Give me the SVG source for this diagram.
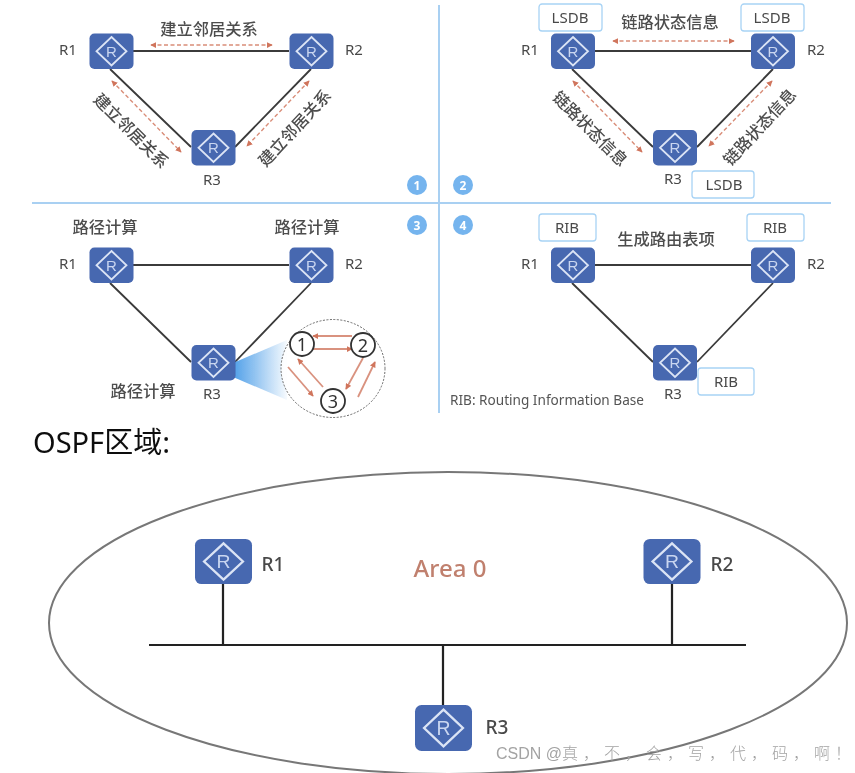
<svg xmlns="http://www.w3.org/2000/svg" width="855" height="773" viewBox="0 0 855 773">
<style>
text{font-family:"Noto Sans","Noto Sans CJK SC",sans-serif;fill:#555}
.lbl{font-size:15px;text-anchor:middle;fill:#4a4a4a}
.cn{font-size:16.300px;font-weight:500;text-anchor:middle;fill:#4d4d4d;font-family:"Noto Sans CJK SC",sans-serif}
.big{font-size:19px;font-weight:500;fill:#4a4a4a;text-anchor:middle}
.link{stroke:#3a3a3a;stroke-width:1.800;fill:none}
.bus{stroke:#222;stroke-width:2.200;fill:none}
.divider{stroke:#a9d0f2;stroke-width:2;fill:none}
.dash{stroke:#d98d78;stroke-width:1.400;stroke-dasharray:4 2.500;fill:none;marker-start:url(#as);marker-end:url(#ae)}
.solid{stroke:#d9927f;stroke-width:1.800;fill:none;marker-end:url(#ae)}
.box{fill:#fff;stroke:#a8d3f5;stroke-width:1.300}
.num{fill:#fff;stroke:#333;stroke-width:1.800}
.numt{font-size:18px;text-anchor:middle;fill:#333}
.badge{fill:#74b4ee}
.badget{font-size:12px;font-weight:bold;fill:#fff;text-anchor:middle}
</style>
<defs>
<filter id="soft" x="0" y="0" width="100%" height="100%" filterUnits="userSpaceOnUse" primitiveUnits="userSpaceOnUse"><feGaussianBlur stdDeviation="0.5"/></filter>
<marker id="ae" viewBox="0 0 8 8" refX="7" refY="4" markerWidth="6" markerHeight="6" markerUnits="userSpaceOnUse" orient="auto"><path d="M0 0L8 4L0 8Z" fill="#d0745c"/></marker>
<marker id="as" viewBox="0 0 8 8" refX="1" refY="4" markerWidth="6" markerHeight="6" markerUnits="userSpaceOnUse" orient="auto"><path d="M8 0L0 4L8 8Z" fill="#d0745c"/></marker>
<linearGradient id="cone" x1="0" y1="0" x2="1" y2="0"><stop offset="0" stop-color="#4f9fe8"/><stop offset="1" stop-color="#4f9fe8" stop-opacity="0.05"/></linearGradient>
<symbol id="router" viewBox="0 0 44 35.500" preserveAspectRatio="none" overflow="visible">
<rect width="44" height="35.500" rx="5" fill="#4767b0"/>
<path d="M22 3.500L37 17.750L22 32L7 17.750Z" fill="none" stroke="#dbe4f5" stroke-width="1.800"/>
<text x="22" y="23" font-size="15" text-anchor="middle" style="fill:#c9d6f0;font-family:'Liberation Sans',sans-serif">R</text>
</symbol>
</defs>

<g filter="url(#soft)">
<g id="dividers">
<line class="divider" x1="439" y1="5" x2="439" y2="413"/>
<line class="divider" x1="32" y1="203" x2="831" y2="203"/>
</g>

<g id="connectors">
<path class="link" d="M133 51H289M110 69L191 147M311 69L235 147"/>
<path class="dash" d="M151 45H272"/>
<path class="dash" d="M112 81L181 152"/>
<path class="dash" d="M309 81L247 146"/>
<path class="link" d="M595 51H751M572 69L653 147M773 69L697 147"/>
<path class="dash" d="M613 41H734"/>
<path class="dash" d="M573 81L642 152"/>
<path class="dash" d="M772 81L709 146"/>
<path class="link" d="M133 265H289M110 283L191 362M311 283L235 362"/>
<path class="link" d="M595 265H751M572 283L653 362M773 283L697 362"/>
<path class="bus" d="M149 645H746M223 584V645M672 584V645M443 645V705"/>
</g>

<g id="cone-zoom">
<path d="M233 363L287 340L287 400L233 377Z" fill="url(#cone)"/>
<ellipse cx="333" cy="368.500" rx="52" ry="49" fill="#fff" fill-opacity="0.85" stroke="#666" stroke-width="1" stroke-dasharray="2 1.500"/>
<path class="solid" d="M352 336H313"/>
<path class="solid" d="M313 349H352"/>
<path class="solid" d="M363 358L346 389"/>
<path class="solid" d="M358 397L375 362"/>
<path class="solid" d="M323 387L298 359"/>
<path class="solid" d="M288 367L313 396"/>
<circle class="num" cx="302" cy="344" r="12"/><text class="numt" x="302" y="350.500">1</text>
<circle class="num" cx="363" cy="345" r="12"/><text class="numt" x="363" y="351.500">2</text>
<circle class="num" cx="333" cy="401" r="12"/><text class="numt" x="333" y="407.500">3</text>
</g>

<g id="p1-r1"><use href="#router" x="89.500" y="33.500" width="44" height="35.500"/><text class="lbl" x="68" y="55">R1</text></g>
<g id="p1-r2"><use href="#router" x="289.500" y="33.500" width="44" height="35.500"/><text class="lbl" x="354" y="55">R2</text></g>
<g id="p1-r3"><use href="#router" x="191.500" y="130" width="44" height="35.500"/><text class="lbl" x="212" y="185">R3</text></g>
<text class="cn" x="209" y="35">建立邻居关系</text>
<text class="cn" transform="translate(127 135) rotate(45)">建立邻居关系</text>
<text class="cn" transform="translate(299 132) rotate(-47)">建立邻居关系</text>
<g id="badge-1"><circle class="badge" cx="417" cy="185" r="10"/><text class="badget" x="417" y="190">1</text></g>

<g id="p2-r1"><use href="#router" x="551" y="33.500" width="44" height="35.500"/><text class="lbl" x="530" y="55">R1</text></g>
<g id="p2-r2"><use href="#router" x="751" y="33.500" width="44" height="35.500"/><text class="lbl" x="816" y="55">R2</text></g>
<g id="p2-r3"><use href="#router" x="653" y="130" width="44" height="35.500"/><text class="lbl" x="673" y="184">R3</text></g>
<g id="p2-lsdb1"><rect class="box" x="539" y="4" width="63" height="27" rx="3"/><text class="lbl" x="570" y="23">LSDB</text></g>
<g id="p2-lsdb2"><rect class="box" x="741" y="4" width="63" height="27" rx="3"/><text class="lbl" x="772" y="23">LSDB</text></g>
<g id="p2-lsdb3"><rect class="box" x="692" y="171" width="62" height="27" rx="3"/><text class="lbl" x="724" y="190">LSDB</text></g>
<text class="cn" x="670" y="28">链路状态信息</text>
<text class="cn" transform="translate(586 133) rotate(45)">链路状态信息</text>
<text class="cn" transform="translate(764 131) rotate(-47)">链路状态信息</text>
<g id="badge-2"><circle class="badge" cx="463" cy="185" r="10"/><text class="badget" x="463" y="190">2</text></g>

<g id="p3-r1"><use href="#router" x="89.500" y="247.500" width="44" height="35.500"/><text class="lbl" x="68" y="269">R1</text></g>
<g id="p3-r2"><use href="#router" x="289.500" y="247.500" width="44" height="35.500"/><text class="lbl" x="354" y="269">R2</text></g>
<g id="p3-r3"><use href="#router" x="191.500" y="345" width="44" height="35.500"/><text class="lbl" x="212" y="399">R3</text></g>
<text class="cn" x="105" y="233">路径计算</text>
<text class="cn" x="307" y="233">路径计算</text>
<text class="cn" x="143" y="397">路径计算</text>
<g id="badge-3"><circle class="badge" cx="417" cy="225" r="10"/><text class="badget" x="417" y="230">3</text></g>

<g id="p4-r1"><use href="#router" x="551" y="247.500" width="44" height="35.500"/><text class="lbl" x="530" y="269">R1</text></g>
<g id="p4-r2"><use href="#router" x="751" y="247.500" width="44" height="35.500"/><text class="lbl" x="816" y="269">R2</text></g>
<g id="p4-r3"><use href="#router" x="653" y="345" width="44" height="35.500"/><text class="lbl" x="673" y="399">R3</text></g>
<g id="p4-rib1"><rect class="box" x="539" y="214" width="57" height="27" rx="3"/><text class="lbl" x="567" y="233">RIB</text></g>
<g id="p4-rib2"><rect class="box" x="747" y="214" width="57" height="27" rx="3"/><text class="lbl" x="775" y="233">RIB</text></g>
<g id="p4-rib3"><rect class="box" x="698" y="368" width="56" height="27" rx="3"/><text class="lbl" x="726" y="387">RIB</text></g>
<text class="cn" x="666" y="245">生成路由表项</text>
<text x="450" y="405" style="font-size:13.600px;fill:#555">RIB: Routing Information Base</text>
<g id="badge-4"><circle class="badge" cx="463" cy="225" r="10"/><text class="badget" x="463" y="230">4</text></g>

<text x="33" y="453" style="font-size:29px;fill:#111;font-family:'Noto Sans','Noto Sans CJK SC',sans-serif">OSPF区域:</text>

<g id="area">
<ellipse cx="448" cy="623" rx="399" ry="151" fill="none" stroke="#777" stroke-width="2"/>
<text x="450" y="576.500" style="font-size:24px;font-weight:500;fill:#c0806e;text-anchor:middle">Area 0</text>
</g>
<g id="r1"><use href="#router" x="195" y="539" width="57" height="45"/><text class="big" x="273" y="571">R1</text></g>
<g id="r2"><use href="#router" x="643.500" y="539" width="57" height="45"/><text class="big" x="722" y="571">R2</text></g>
<g id="r3"><use href="#router" x="415" y="705" width="57" height="46"/><text class="big" x="497" y="734">R3</text></g>

<text x="496" y="759" style="font-size:16px;fill:#a3a3a3;font-family:'Liberation Sans','Noto Sans CJK SC',sans-serif">CSDN @<tspan letter-spacing="5" style="font-family:'Noto Sans CJK SC',sans-serif;font-weight:300">真，不，会，写，代，码，啊！</tspan></text>
</g>
</svg>
